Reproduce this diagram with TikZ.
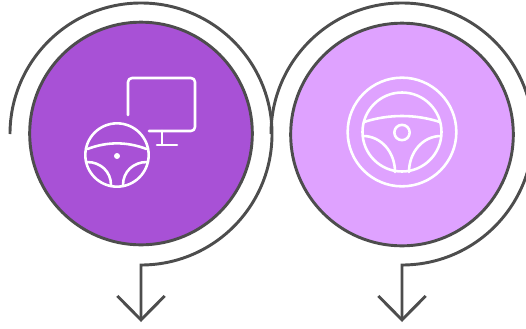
\documentclass[tikz,border=0pt]{standalone}
\usetikzlibrary{arrows.meta}
\definecolor{stepdark}{HTML}{A851D6}
\definecolor{steplight}{HTML}{DFA2FF}
\definecolor{ringgray}{HTML}{4D4D4D}

\begin{document}
\begin{tikzpicture}[
  x=0.03cm, y=-0.03cm,
  disc/.style={circle, draw=ringgray, line width=2.5pt, minimum size=6.68cm,
               inner sep=0pt, outer sep=0pt},
  ring/.style={draw=ringgray, line width=2.5pt, line join=miter,
               -{Straight Barb[length=0.72cm, width=1.42cm, line width=2.5pt]}},
  icon/.style={draw=white, line width=2.2pt, line cap=round, line join=round},
]
  \clip (0, 0) rectangle (526, 328);

  % Discs
  \node[disc, fill=stepdark]  (discA) at (141, 133.5) {};
  \node[disc, fill=steplight] (discB) at (402, 134.5) {};

  % Outer rings
  \coordinate (ringA) at (10, 134);
  \coordinate (tipA)  at (141, 322);
  \coordinate (ringB) at (271, 134);
  \coordinate (tipB)  at (402, 322);
  \draw[ring] (ringA) arc[start angle=180, end angle=-90, radius=3.93cm] -- (tipA);
  \draw[ring] (ringB) arc[start angle=180, end angle=-90, radius=3.93cm] -- (tipB);

  % Monitor
  \draw[icon] (128, 115) -- (128, 82) arc[start angle=180, end angle=90, radius=0.12cm]
    -- (191, 78) arc[start angle=90, end angle=0, radius=0.12cm]
    -- (195, 127) arc[start angle=0, end angle=-90, radius=0.12cm] -- (149, 131);
  \draw[icon] (162, 131) -- (162, 145);
  \draw[icon] (157, 145) -- (177, 145);

  % Small wheel
  \draw[icon] (117, 155) circle[radius=0.95cm];
  \fill[white] (117, 156) circle[radius=0.09cm];
  \draw[icon] (87.5, 149) .. controls (107, 141.5) and (127, 141.5) .. (146.5, 149);
  \draw[icon] (87, 162) .. controls (101, 162) and (111, 172) .. (111, 185);
  \draw[icon] (147, 162) .. controls (133, 162) and (123, 172) .. (123, 185);

  % Large wheel
  \draw[icon] (402, 132) circle[radius=1.63cm];
  \draw[icon] (402, 132) circle[radius=1.185cm];
  \draw[icon] (402, 132.5) circle[radius=0.23cm];
  \draw[icon] (364, 122) .. controls (389, 114) and (415, 114) .. (440, 122);
  \draw[icon] (363, 136) .. controls (381, 136) and (395, 152) .. (395, 172);
  \draw[icon] (441, 136) .. controls (423, 136) and (409, 152) .. (409, 172);
\end{tikzpicture}
\end{document}
